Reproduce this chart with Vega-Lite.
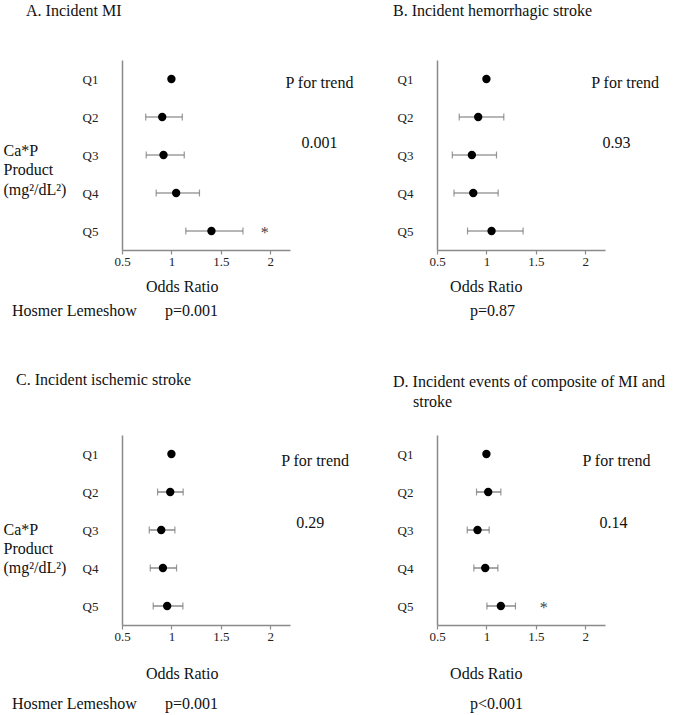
{
  "$schema": "https://vega.github.io/schema/vega-lite/v6.json",
  "padding": {"left": 3, "top": 3, "right": 5, "bottom": 5},
  "background": "white",
  "bounds": "flush",
  "columns": 2,
  "spacing": {"row": 185, "column": 147},
  "config": {
    "font": "Liberation Serif",
    "view": {"stroke": null},
    "axis": {"labelFont": "Liberation Serif", "titleFont": "Liberation Serif", "labelFontSize": 13, "labelColor": "#222", "titleColor": "#111", "titleFontWeight": "normal", "titleFontSize": 16, "domainColor": "#8a8a8a", "domainWidth": 1.5, "grid": false, "tickColor": "#8a8a8a", "tickWidth": 1.2},
    "axisX": {"tickSize": 4, "labelPadding": 1, "labelFlush": false, "labelOverlap": false},
    "axisY": {"ticks": false, "labelPadding": 24, "labelOverlap": false},
    "title": {"font": "Liberation Serif", "fontSize": 16, "fontWeight": "normal", "anchor": "start", "frame": "group", "baseline": "alphabetic", "color": "#111", "lineHeight": 20.5}
  },
  "datasets": {
    "est": [
      {"panel": "A", "q": 1, "or": 1.0, "lo": 1.0, "hi": 1.0},
      {"panel": "A", "q": 2, "or": 0.907, "lo": 0.74, "hi": 1.11},
      {"panel": "A", "q": 3, "or": 0.92, "lo": 0.745, "hi": 1.13},
      {"panel": "A", "q": 4, "or": 1.048, "lo": 0.846, "hi": 1.284},
      {"panel": "A", "q": 5, "or": 1.405, "lo": 1.146, "hi": 1.724},
      {"panel": "B", "q": 1, "or": 1.0, "lo": 1.0, "hi": 1.0},
      {"panel": "B", "q": 2, "or": 0.917, "lo": 0.725, "hi": 1.176},
      {"panel": "B", "q": 3, "or": 0.853, "lo": 0.655, "hi": 1.102},
      {"panel": "B", "q": 4, "or": 0.867, "lo": 0.672, "hi": 1.119},
      {"panel": "B", "q": 5, "or": 1.052, "lo": 0.809, "hi": 1.371},
      {"panel": "C", "q": 1, "or": 1.0, "lo": 1.0, "hi": 1.0},
      {"panel": "C", "q": 2, "or": 0.988, "lo": 0.86, "hi": 1.119},
      {"panel": "C", "q": 3, "or": 0.897, "lo": 0.776, "hi": 1.035},
      {"panel": "C", "q": 4, "or": 0.914, "lo": 0.786, "hi": 1.052},
      {"panel": "C", "q": 5, "or": 0.957, "lo": 0.816, "hi": 1.116},
      {"panel": "D", "q": 1, "or": 1.0, "lo": 1.0, "hi": 1.0},
      {"panel": "D", "q": 2, "or": 1.018, "lo": 0.9, "hi": 1.146},
      {"panel": "D", "q": 3, "or": 0.91, "lo": 0.806, "hi": 1.028},
      {"panel": "D", "q": 4, "or": 0.988, "lo": 0.873, "hi": 1.116},
      {"panel": "D", "q": 5, "or": 1.146, "lo": 1.005, "hi": 1.294}
    ],
    "notes": [
      {"panel": "A", "x": 2.155, "y": 1.105, "t": "P for trend"},
      {"panel": "A", "x": 2.316, "y": 2.68, "t": "0.001"},
      {"panel": "A", "x": -0.613, "y": 7.1, "t": "Hosmer Lemeshow"},
      {"panel": "A", "x": 0.934, "y": 7.1, "t": "p=0.001"},
      {"panel": "B", "x": 2.061, "y": 1.105, "t": "P for trend"},
      {"panel": "B", "x": 2.175, "y": 2.68, "t": "0.93"},
      {"panel": "B", "x": 0.833, "y": 7.1, "t": "p=0.87"},
      {"panel": "C", "x": 2.111, "y": 1.19, "t": "P for trend"},
      {"panel": "C", "x": 2.263, "y": 2.82, "t": "0.29"},
      {"panel": "C", "x": -0.613, "y": 7.58, "t": "Hosmer Lemeshow"},
      {"panel": "C", "x": 0.934, "y": 7.58, "t": "p=0.001"},
      {"panel": "D", "x": 1.973, "y": 1.19, "t": "P for trend"},
      {"panel": "D", "x": 2.145, "y": 2.82, "t": "0.14"},
      {"panel": "D", "x": 0.833, "y": 7.58, "t": "p<0.001"}
    ],
    "stars": [
      {"panel": "A", "x": 1.945, "y": 5.05, "t": "*"},
      {"panel": "D", "x": 1.58, "y": 5.05, "t": "*"}
    ]
  },
  "concat": [
    {
      "width": 168, "height": 190,
      "title": {"text": "A. Incident MI", "dx": -96, "offset": 41},
      "layer": [
        {"mark": {"type": "rule", "color": "#8c8c8c", "strokeWidth": 1.5}, "encoding": {"x": {"datum": 1, "type": "quantitative", "scale": {"domain": [0.5, 2.2], "nice": false, "zero": false}, "axis": {"title": "Odds Ratio", "values": [0.5, 1, 1.5, 2], "format": "~g", "titleX": 59.7, "titleY": 36, "titleAlign": "center", "titleBaseline": "middle"}}}},
        {"data": {"name": "est"}, "transform": [{"filter": "datum.panel === 'A'"}], "mark": {"type": "rule", "color": "#6e6e6e", "strokeWidth": 1.2},
         "encoding": {"x": {"field": "lo", "type": "quantitative"}, "x2": {"field": "hi"}, "y": {"field": "q", "type": "quantitative", "scale": {"domain": [0.5, 5.5], "reverse": true, "nice": false, "zero": false}, "axis": {"title": ["Ca*P", "Product", "(mg²/dL²)"], "values": [1, 2, 3, 4, 5], "labelExpr": "'Q' + datum.value", "titleAngle": 0, "titleAlign": "left", "titleX": -119, "titleY": 90.5, "titleBaseline": "middle", "titleLineHeight": 19.3}}}},
        {"data": {"name": "est"}, "transform": [{"filter": "datum.panel === 'A' && datum.q > 1"}], "mark": {"type": "tick", "orient": "vertical", "color": "#6e6e6e", "size": 7, "thickness": 1.2},
         "encoding": {"x": {"field": "lo", "type": "quantitative"}, "y": {"field": "q", "type": "quantitative"}}},
        {"data": {"name": "est"}, "transform": [{"filter": "datum.panel === 'A' && datum.q > 1"}], "mark": {"type": "tick", "orient": "vertical", "color": "#6e6e6e", "size": 7, "thickness": 1.2},
         "encoding": {"x": {"field": "hi", "type": "quantitative"}, "y": {"field": "q", "type": "quantitative"}}},
        {"data": {"name": "est"}, "transform": [{"filter": "datum.panel === 'A'"}], "mark": {"type": "point", "shape": "circle", "filled": true, "color": "#000", "size": 70, "opacity": 1},
         "encoding": {"x": {"field": "or", "type": "quantitative"}, "y": {"field": "q", "type": "quantitative"}}},
        {"data": {"name": "notes"}, "transform": [{"filter": "datum.panel === 'A'"}], "mark": {"type": "text", "align": "left", "baseline": "middle", "fontSize": 16, "color": "#111"},
         "encoding": {"x": {"field": "x", "type": "quantitative"}, "y": {"field": "y", "type": "quantitative"}, "text": {"field": "t"}}},
        {"data": {"name": "stars"}, "transform": [{"filter": "datum.panel === 'A'"}], "mark": {"type": "text", "align": "center", "baseline": "middle", "fontSize": 16, "color": "#444"},
         "encoding": {"x": {"field": "x", "type": "quantitative"}, "y": {"field": "y", "type": "quantitative"}, "text": {"field": "t"}}}
      ]
    },
    {
      "width": 168, "height": 190,
      "title": {"text": "B. Incident hemorrhagic stroke", "dx": -44, "offset": 41},
      "layer": [
        {"mark": {"type": "rule", "color": "#8c8c8c", "strokeWidth": 1.5}, "encoding": {"x": {"datum": 1, "type": "quantitative", "scale": {"domain": [0.5, 2.2], "nice": false, "zero": false}, "axis": {"title": "Odds Ratio", "values": [0.5, 1, 1.5, 2], "format": "~g", "titleX": 48.8, "titleY": 36, "titleAlign": "center", "titleBaseline": "middle"}}}},
        {"data": {"name": "est"}, "transform": [{"filter": "datum.panel === 'B'"}], "mark": {"type": "rule", "color": "#6e6e6e", "strokeWidth": 1.2},
         "encoding": {"x": {"field": "lo", "type": "quantitative"}, "x2": {"field": "hi"}, "y": {"field": "q", "type": "quantitative", "scale": {"domain": [0.5, 5.5], "reverse": true, "nice": false, "zero": false}, "axis": {"title": null, "values": [1, 2, 3, 4, 5], "labelExpr": "'Q' + datum.value"}}}},
        {"data": {"name": "est"}, "transform": [{"filter": "datum.panel === 'B' && datum.q > 1"}], "mark": {"type": "tick", "orient": "vertical", "color": "#6e6e6e", "size": 7, "thickness": 1.2},
         "encoding": {"x": {"field": "lo", "type": "quantitative"}, "y": {"field": "q", "type": "quantitative"}}},
        {"data": {"name": "est"}, "transform": [{"filter": "datum.panel === 'B' && datum.q > 1"}], "mark": {"type": "tick", "orient": "vertical", "color": "#6e6e6e", "size": 7, "thickness": 1.2},
         "encoding": {"x": {"field": "hi", "type": "quantitative"}, "y": {"field": "q", "type": "quantitative"}}},
        {"data": {"name": "est"}, "transform": [{"filter": "datum.panel === 'B'"}], "mark": {"type": "point", "shape": "circle", "filled": true, "color": "#000", "size": 70, "opacity": 1},
         "encoding": {"x": {"field": "or", "type": "quantitative"}, "y": {"field": "q", "type": "quantitative"}}},
        {"data": {"name": "notes"}, "transform": [{"filter": "datum.panel === 'B'"}], "mark": {"type": "text", "align": "left", "baseline": "middle", "fontSize": 16, "color": "#111"},
         "encoding": {"x": {"field": "x", "type": "quantitative"}, "y": {"field": "y", "type": "quantitative"}, "text": {"field": "t"}}}
      ]
    },
    {
      "width": 168, "height": 190,
      "title": {"text": "C. Incident ischemic stroke", "dx": -106, "offset": 47},
      "layer": [
        {"mark": {"type": "rule", "color": "#8c8c8c", "strokeWidth": 1.5}, "encoding": {"x": {"datum": 1, "type": "quantitative", "scale": {"domain": [0.5, 2.2], "nice": false, "zero": false}, "axis": {"title": "Odds Ratio", "values": [0.5, 1, 1.5, 2], "format": "~g", "titleX": 59.7, "titleY": 48.5, "titleAlign": "center", "titleBaseline": "middle"}}}},
        {"data": {"name": "est"}, "transform": [{"filter": "datum.panel === 'C'"}], "mark": {"type": "rule", "color": "#6e6e6e", "strokeWidth": 1.2},
         "encoding": {"x": {"field": "lo", "type": "quantitative"}, "x2": {"field": "hi"}, "y": {"field": "q", "type": "quantitative", "scale": {"domain": [0.5, 5.5], "reverse": true, "nice": false, "zero": false}, "axis": {"title": ["Ca*P", "Product", "(mg²/dL²)"], "values": [1, 2, 3, 4, 5], "labelExpr": "'Q' + datum.value", "titleAngle": 0, "titleAlign": "left", "titleX": -119, "titleY": 94, "titleBaseline": "middle", "titleLineHeight": 19.3}}}},
        {"data": {"name": "est"}, "transform": [{"filter": "datum.panel === 'C' && datum.q > 1"}], "mark": {"type": "tick", "orient": "vertical", "color": "#6e6e6e", "size": 7, "thickness": 1.2},
         "encoding": {"x": {"field": "lo", "type": "quantitative"}, "y": {"field": "q", "type": "quantitative"}}},
        {"data": {"name": "est"}, "transform": [{"filter": "datum.panel === 'C' && datum.q > 1"}], "mark": {"type": "tick", "orient": "vertical", "color": "#6e6e6e", "size": 7, "thickness": 1.2},
         "encoding": {"x": {"field": "hi", "type": "quantitative"}, "y": {"field": "q", "type": "quantitative"}}},
        {"data": {"name": "est"}, "transform": [{"filter": "datum.panel === 'C'"}], "mark": {"type": "point", "shape": "circle", "filled": true, "color": "#000", "size": 70, "opacity": 1},
         "encoding": {"x": {"field": "or", "type": "quantitative"}, "y": {"field": "q", "type": "quantitative"}}},
        {"data": {"name": "notes"}, "transform": [{"filter": "datum.panel === 'C'"}], "mark": {"type": "text", "align": "left", "baseline": "middle", "fontSize": 16, "color": "#111"},
         "encoding": {"x": {"field": "x", "type": "quantitative"}, "y": {"field": "y", "type": "quantitative"}, "text": {"field": "t"}}}
      ]
    },
    {
      "width": 168, "height": 190,
      "title": {"text": ["D. Incident events of composite of MI and", "\u200b\u00a0\u00a0\u00a0\u00a0\u00a0stroke"], "dx": -44, "offset": 25},
      "layer": [
        {"mark": {"type": "rule", "color": "#8c8c8c", "strokeWidth": 1.5}, "encoding": {"x": {"datum": 1, "type": "quantitative", "scale": {"domain": [0.5, 2.2], "nice": false, "zero": false}, "axis": {"title": "Odds Ratio", "values": [0.5, 1, 1.5, 2], "format": "~g", "titleX": 48.8, "titleY": 48.5, "titleAlign": "center", "titleBaseline": "middle"}}}},
        {"data": {"name": "est"}, "transform": [{"filter": "datum.panel === 'D'"}], "mark": {"type": "rule", "color": "#6e6e6e", "strokeWidth": 1.2},
         "encoding": {"x": {"field": "lo", "type": "quantitative"}, "x2": {"field": "hi"}, "y": {"field": "q", "type": "quantitative", "scale": {"domain": [0.5, 5.5], "reverse": true, "nice": false, "zero": false}, "axis": {"title": null, "values": [1, 2, 3, 4, 5], "labelExpr": "'Q' + datum.value"}}}},
        {"data": {"name": "est"}, "transform": [{"filter": "datum.panel === 'D' && datum.q > 1"}], "mark": {"type": "tick", "orient": "vertical", "color": "#6e6e6e", "size": 7, "thickness": 1.2},
         "encoding": {"x": {"field": "lo", "type": "quantitative"}, "y": {"field": "q", "type": "quantitative"}}},
        {"data": {"name": "est"}, "transform": [{"filter": "datum.panel === 'D' && datum.q > 1"}], "mark": {"type": "tick", "orient": "vertical", "color": "#6e6e6e", "size": 7, "thickness": 1.2},
         "encoding": {"x": {"field": "hi", "type": "quantitative"}, "y": {"field": "q", "type": "quantitative"}}},
        {"data": {"name": "est"}, "transform": [{"filter": "datum.panel === 'D'"}], "mark": {"type": "point", "shape": "circle", "filled": true, "color": "#000", "size": 70, "opacity": 1},
         "encoding": {"x": {"field": "or", "type": "quantitative"}, "y": {"field": "q", "type": "quantitative"}}},
        {"data": {"name": "notes"}, "transform": [{"filter": "datum.panel === 'D'"}], "mark": {"type": "text", "align": "left", "baseline": "middle", "fontSize": 16, "color": "#111"},
         "encoding": {"x": {"field": "x", "type": "quantitative"}, "y": {"field": "y", "type": "quantitative"}, "text": {"field": "t"}}},
        {"data": {"name": "stars"}, "transform": [{"filter": "datum.panel === 'D'"}], "mark": {"type": "text", "align": "center", "baseline": "middle", "fontSize": 16, "color": "#444"},
         "encoding": {"x": {"field": "x", "type": "quantitative"}, "y": {"field": "y", "type": "quantitative"}, "text": {"field": "t"}}}
      ]
    }
  ]
}
